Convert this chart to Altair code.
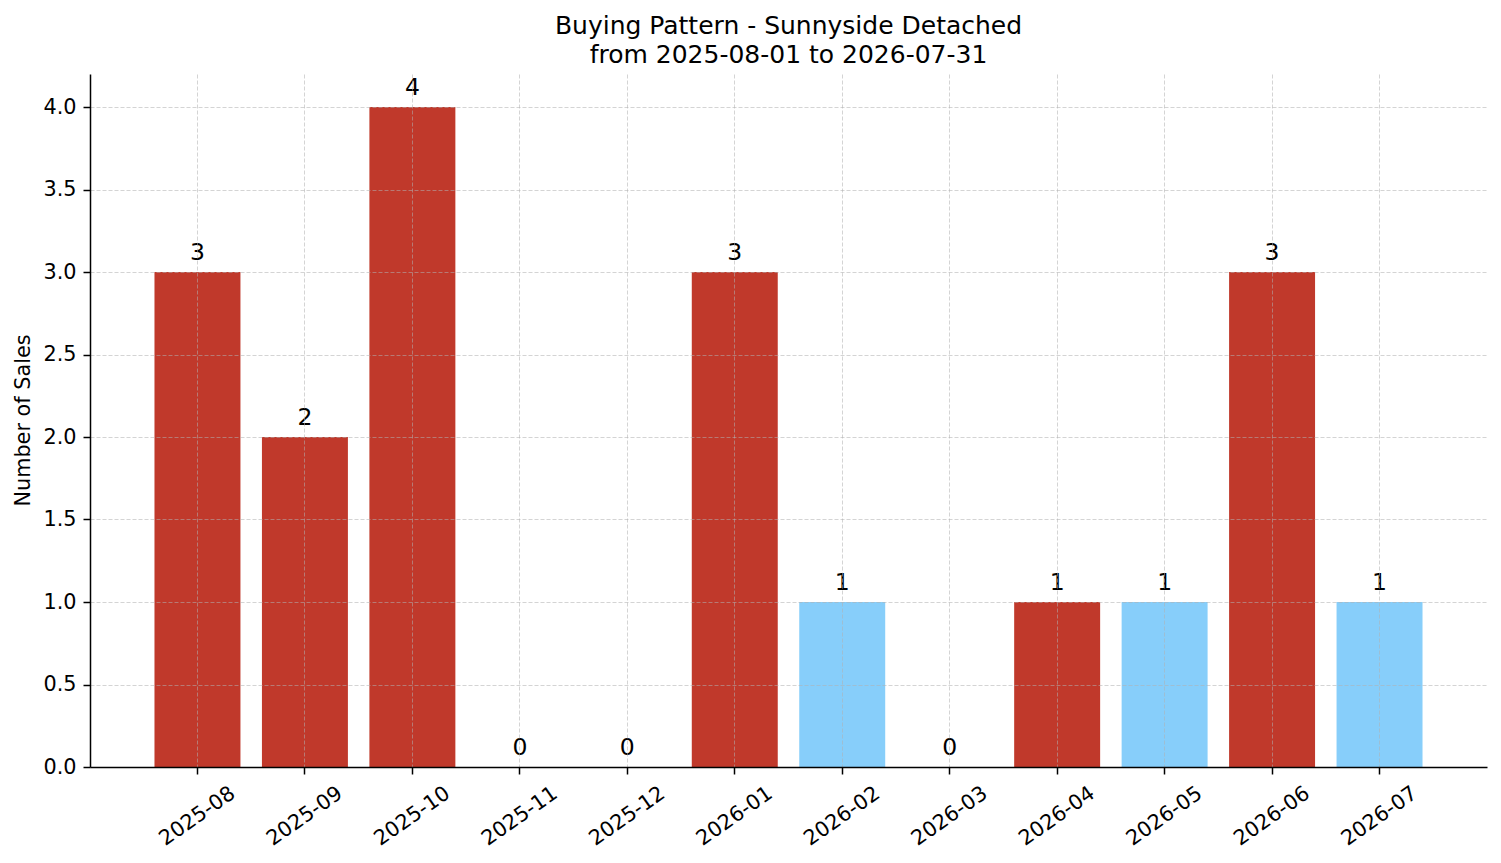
import altair as alt
import pandas as pd

# 월별 판매 데이터
months = ["2025-08", "2025-09", "2025-10", "2025-11", "2025-12", "2026-01",
          "2026-02", "2026-03", "2026-04", "2026-05", "2026-06", "2026-07"]
sales = [3, 2, 4, 0, 0, 3, 1, 0, 1, 1, 3, 1]
segment = ["primary", "primary", "primary", "primary", "primary", "primary",
           "secondary", "primary", "primary", "secondary", "primary", "secondary"]

title_lines = ["Buying Pattern - Sunnyside Detached", "from 2025-08-01 to 2026-07-31"]

df = pd.DataFrame({"month": months, "sales": sales, "segment": segment})

FONT = "DejaVu Sans"

x_enc = alt.X(
    "month:N",
    sort=months,
    title=None,
    scale=alt.Scale(paddingInner=0.2, paddingOuter=0.6),
    axis=alt.Axis(
        labelAngle=325, labelAlign="center", labelBaseline="middle",
        labelPadding=42, labelFontSize=20.8, labelFont=FONT, labelColor="black",
        bandPosition=0.5, tickSize=7, tickWidth=1.5, tickColor="black",
        domainColor="black", domainWidth=1.5,
        grid=True, gridColor="#b0b0b0", gridOpacity=0.55, gridDash=[4, 2], gridWidth=1,
        zindex=1,
    ),
)
y_enc = alt.Y(
    "sales:Q",
    title="Number of Sales",
    scale=alt.Scale(domain=[0, 4.2], nice=False, zero=True),
    axis=alt.Axis(
        values=[0, 0.5, 1, 1.5, 2, 2.5, 3, 3.5, 4], format=".1f",
        labelFontSize=20.8, labelFont=FONT, labelColor="black", labelPadding=7,
        tickSize=7, tickWidth=1.5, tickColor="black",
        domainColor="black", domainWidth=1.5,
        grid=True, gridColor="#b0b0b0", gridOpacity=0.55, gridDash=[4, 2], gridWidth=1,
        titleFont=FONT, titleFontSize=20.8, titleFontWeight="normal", titleColor="black",
        titleX=-67, titleY=346, titleBaseline="middle", titleAlign="center",
        zindex=1,
    ),
)

base = alt.Chart(df).encode(x=x_enc, y=y_enc)

bars = base.mark_bar().encode(
    color=alt.Color("segment:N", legend=None,
                    scale=alt.Scale(domain=["primary", "secondary"],
                                    range=["#C0392B", "#87CEFA"]))
)

labels = base.mark_text(
    baseline="alphabetic", dy=-12, fontSize=23.5, font=FONT, color="black"
).encode(text="sales:Q")

chart = alt.layer(bars, labels).properties(
    width=1397,
    height=693,
    padding={"left": 82, "top": 66, "right": 6, "bottom": 88},
    autosize=alt.AutoSizeParams(type="none"),
    title=alt.TitleParams(
        text=title_lines, font=FONT, fontSize=25, fontWeight="normal",
        color="black", anchor="middle", baseline="alphabetic", lineHeight=29,
        offset=12, dy=25.5,
    ),
).configure_view(stroke=None)

chart.save("out.html", embed_options={"renderer": "svg", "actions": False})
